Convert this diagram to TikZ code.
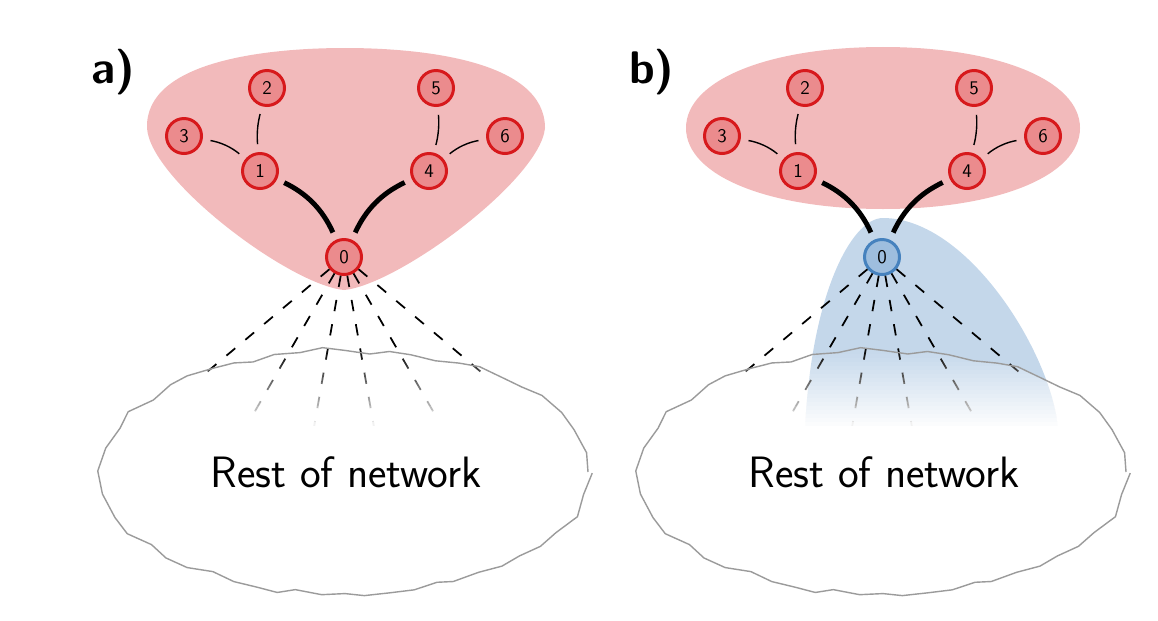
\documentclass[tikz,border=0pt]{standalone}
\usepackage{tikz}
\usetikzlibrary{decorations.pathmorphing}

\definecolor{blobred}{RGB}{242,186,187}
\definecolor{nodered}{RGB}{235,139,141}
\definecolor{linered}{RGB}{215,25,28}
\definecolor{blobblue}{RGB}{196,215,234}
\definecolor{nodeblue}{RGB}{158,190,222}
\definecolor{lineblue}{RGB}{70,130,190}
\definecolor{cloudgray}{RGB}{155,155,155}

\tikzset{
  vert/.style={circle, draw=linered, fill=nodered, line width=1.7pt, minimum size=0.7cm, inner sep=0pt, font=\sffamily\fontsize{11}{13}\selectfont},
  hub/.style={vert, draw=lineblue, fill=nodeblue},
  link/.style={line width=0.8pt, shorten <=4.5pt, shorten >=4.5pt},
  trunk/.style={line width=2.8pt, shorten <=4.5pt, shorten >=4.5pt},
  fan/.style={line width=1pt, dash pattern=on 6.5pt off 7.5pt},
  cloud/.style={decorate, decoration={random steps, segment length=0.45cm, amplitude=0.07cm}},
  panel/.style={font=\sffamily\bfseries\fontsize{26}{30}\selectfont, anchor=base west},
  rest/.style={font=\sffamily\fontsize{25}{29}\selectfont, anchor=base}
}

\begin{document}
\begin{tikzpicture}
\useasboundingbox (0,0) rectangle (23.16,12.4);

% a)
\fill[blobred] (6.88,6.60) .. controls (5.80,6.70) and (3.00,8.80) .. (2.94,9.84)
  .. controls (2.90,11.20) and (5.40,11.44) .. (6.90,11.44)
  .. controls (8.40,11.44) and (10.90,11.20) .. (10.90,9.84)
  .. controls (10.80,8.80) and (7.96,6.70) .. (6.88,6.60) -- cycle;
\node[vert] (a0) at (6.88,7.26) {0};
\node[vert] (a1) at (5.20,8.98) {1};
\node[vert] (a2) at (5.34,10.64) {2};
\node[vert] (a3) at (3.68,9.68) {3};
\node[vert] (a4) at (8.58,8.98) {4};
\node[vert] (a5) at (8.72,10.64) {5};
\node[vert] (a6) at (10.10,9.68) {6};
\foreach \a [count=\i] in {-140,-120,...,-40} {
  \path (a0) ++(\a:3.56) coordinate (ae\i);
  \draw[fan] (a0) -- (ae\i);
}
\begin{scope}
  \pgfmathsetseed{3}
  \clip[cloud] (6.90,2.96) ellipse [x radius=4.86, y radius=2.42];
  \foreach \k [evaluate=\k as \op using 1/(21-\k)] in {1,...,20}
    \fill[white, opacity=\op] (1.8,{5.40-(\k-1)*0.08}) rectangle (12.0,0.3);
\end{scope}
\pgfmathsetseed{3}
\draw[cloud, cloudgray, line width=0.8pt] (6.90,2.96) ellipse [x radius=4.86, y radius=2.42];
\node[rest] (arest) at (6.92,2.66) {Rest of network};
\draw[trunk] (a1) to[bend left=20] (a0);
\draw[trunk] (a4) to[bend right=20] (a0);
\draw[link] (a1) to[bend left=10] (a2);
\draw[link] (a1) to[bend right=15] (a3);
\draw[link] (a4) to[bend right=10] (a5);
\draw[link] (a4) to[bend left=15] (a6);
\node[panel] (alabel) at (1.70,10.74) {a)};

% b)
\begin{scope}[xshift=10.76cm]
\fill[blobred] (2.96,9.84) .. controls (2.96,10.80) and (4.62,11.46) .. (6.90,11.46)
  .. controls (9.18,11.46) and (10.84,10.80) .. (10.84,9.84)
  .. controls (10.84,8.88) and (9.18,8.22) .. (6.90,8.22)
  .. controls (4.62,8.22) and (2.96,8.88) .. (2.96,9.84) -- cycle;
\fill[blobblue] (5.34,3.76) .. controls (5.44,6.40) and (6.24,8.04) .. (6.90,8.04)
  .. controls (8.64,8.04) and (10.34,5.20) .. (10.40,3.76) -- cycle;
\node[hub] (b0) at (6.88,7.26) {0};
\node[vert] (b1) at (5.20,8.98) {1};
\node[vert] (b2) at (5.34,10.64) {2};
\node[vert] (b3) at (3.68,9.68) {3};
\node[vert] (b4) at (8.58,8.98) {4};
\node[vert] (b5) at (8.72,10.64) {5};
\node[vert] (b6) at (10.10,9.68) {6};
\foreach \a [count=\i] in {-140,-120,...,-40} {
  \path (b0) ++(\a:3.56) coordinate (be\i);
  \draw[fan] (b0) -- (be\i);
}
\begin{scope}
  \pgfmathsetseed{3}
  \clip[cloud] (6.90,2.96) ellipse [x radius=4.86, y radius=2.42];
  \foreach \k [evaluate=\k as \op using 1/(21-\k)] in {1,...,20}
    \fill[white, opacity=\op] (1.8,{5.40-(\k-1)*0.08}) rectangle (12.0,0.3);
\end{scope}
\pgfmathsetseed{3}
\draw[cloud, cloudgray, line width=0.8pt] (6.90,2.96) ellipse [x radius=4.86, y radius=2.42];
\node[rest] (brest) at (6.92,2.66) {Rest of network};
\draw[trunk] (b1) to[bend left=20] (b0);
\draw[trunk] (b4) to[bend right=20] (b0);
\draw[link] (b1) to[bend left=10] (b2);
\draw[link] (b1) to[bend right=15] (b3);
\draw[link] (b4) to[bend right=10] (b5);
\draw[link] (b4) to[bend left=15] (b6);
\node[panel] (blabel) at (1.70,10.74) {b)};
\end{scope}
\end{tikzpicture}
\end{document}
